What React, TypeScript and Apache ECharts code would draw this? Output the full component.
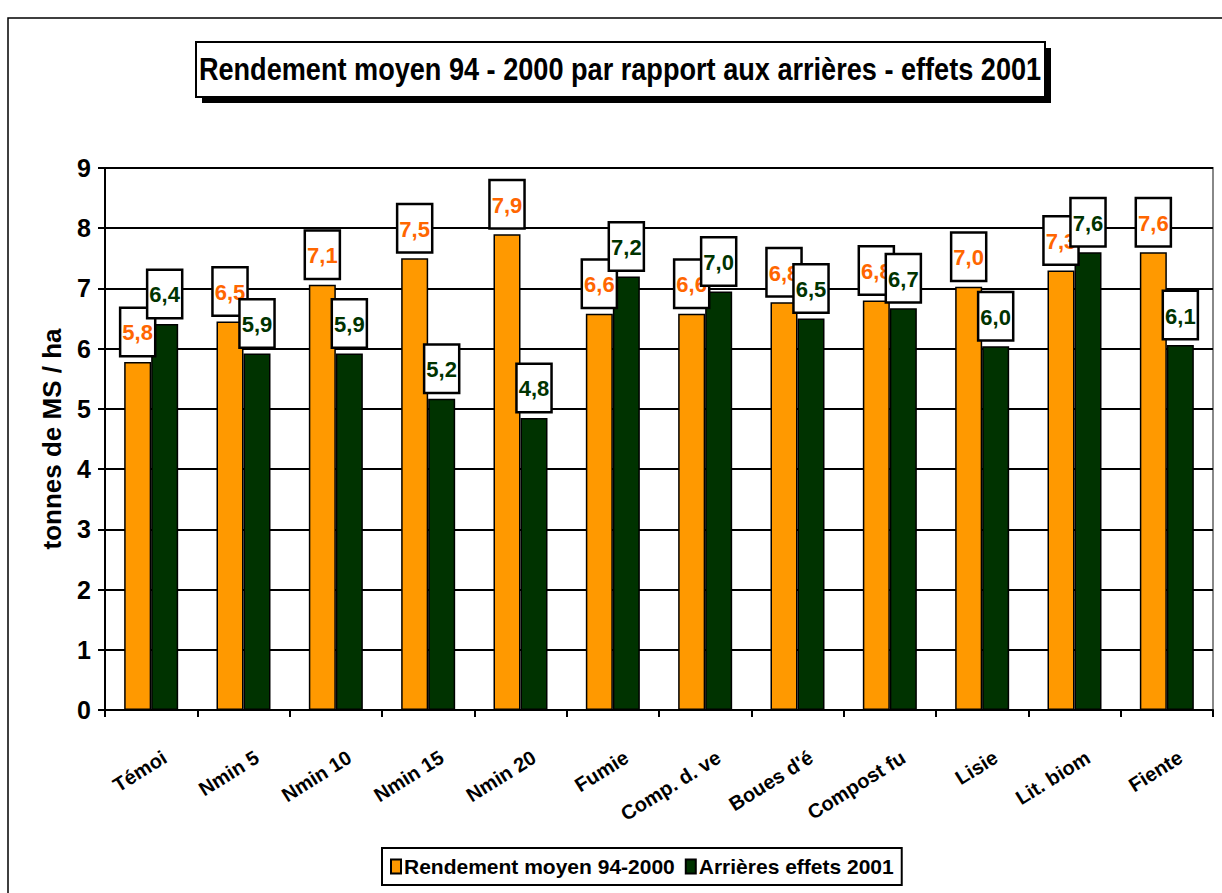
import React, { useEffect, useRef } from "react";
import * as echarts from "echarts";

const categories = ["Témoi", "Nmin 5", "Nmin 10", "Nmin 15", "Nmin 20", "Fumie", "Comp. d. ve", "Boues d'é", "Compost fu", "Lisie", "Lit. biom", "Fiente"];
const rendementMoyen = [5.78, 6.45, 7.06, 7.5, 7.9, 6.58, 6.58, 6.77, 6.8, 7.03, 7.3, 7.6];
const arrieresEffets = [6.41, 5.92, 5.92, 5.17, 4.85, 7.2, 6.95, 6.5, 6.67, 6.04, 7.6, 6.06];
const yTicks = [0, 9, 1];
const seriesNames = ["Rendement moyen 94-2000", "Arrières effets 2001"];
const titleText = "Rendement moyen 94 - 2000 par rapport aux arrières - effets 2001";
const yAxisName = "tonnes de MS / ha";

const FONT = "'Liberation Sans', Arial, sans-serif";

export default function App() {
  const ref = useRef<HTMLDivElement>(null);
  useEffect(() => {
    if (!ref.current) return;
    const chart = echarts.init(ref.current, null, { renderer: "svg" });
    const fmt = (p: any) => Number(p.value).toFixed(1).replace(".", ",");
    const labelBase = {
      show: true,
      position: "top",
      distance: 7,
      formatter: fmt,
      fontFamily: FONT,
      fontWeight: "bold",
      fontSize: 22,
      backgroundColor: "#ffffff",
      borderColor: "#000000",
      borderWidth: 2.5,
      padding: [13, 1, 11, 1],
    };
    chart.setOption({
      animation: false,
      backgroundColor: "#ffffff",
      textStyle: { fontFamily: FONT },
      graphic: [
        { type: "rect", shape: { x: 8, y: 18, width: 1230, height: 900 }, style: { fill: "none", stroke: "#000", lineWidth: 1.5 }, silent: true, z: -10 },
        { type: "rect", shape: { x: 202, y: 48, width: 849, height: 55 }, style: { fill: "#000" }, z: 10 },
        { type: "rect", shape: { x: 196, y: 42, width: 849, height: 55 }, style: { fill: "#fff", stroke: "#000", lineWidth: 2 }, z: 11 },
        {
          type: "text",
          x: 620,
          y: 69,
          scaleX: 0.875,
          z: 12,
          style: { text: titleText, fontFamily: FONT, fontWeight: "bold", fontSize: 31, fill: "#000", align: "center", verticalAlign: "middle" },
        },
      ],
      grid: { left: 105, right: 9, top: 168, bottom: 183, show: true, borderColor: "#888", borderWidth: 2 },
      legend: {
        left: 382,
        top: 848,
        data: seriesNames,
        icon: "rect",
        itemWidth: 10,
        itemHeight: 14,
        itemGap: 10,
        padding: [8, 8, 8, 8],
        borderColor: "#000",
        borderWidth: 2,
        textStyle: { fontFamily: FONT, fontWeight: "bold", fontSize: 21, color: "#000", padding: [0, 0, 0, -2] },
      },
      xAxis: {
        type: "category",
        data: categories,
        axisLine: { lineStyle: { color: "#000", width: 2 } },
        axisTick: { show: true, length: 7, lineStyle: { color: "#000", width: 2 } },
        axisLabel: { rotate: 32, interval: 0, margin: 54, padding: [0, -16, 0, 0], fontFamily: FONT, fontWeight: "bold", fontSize: 20, color: "#000" },
      },
      yAxis: {
        type: "value",
        min: yTicks[0],
        max: yTicks[1],
        interval: yTicks[2],
        name: yAxisName,
        nameLocation: "middle",
        nameGap: 40,
        nameTextStyle: { fontFamily: FONT, fontWeight: "bold", fontSize: 26, color: "#000" },
        axisLine: { show: true, lineStyle: { color: "#000", width: 2 } },
        axisTick: { show: true, length: 7, lineStyle: { color: "#000", width: 2 } },
        axisLabel: { margin: 14, fontFamily: FONT, fontWeight: "bold", fontSize: 25, color: "#000" },
        splitLine: { lineStyle: { color: "#000", width: 2 } },
      },
      series: [
        {
          name: seriesNames[0],
          type: "bar",
          data: rendementMoyen,
          barWidth: 27,
          barGap: "0%",
          itemStyle: { color: "#ff9900", borderColor: "#000", borderWidth: 1.5 },
          label: { ...labelBase, color: "#ff6600" },
        },
        {
          name: seriesNames[1],
          type: "bar",
          data: arrieresEffets,
          barWidth: 27,
          itemStyle: { color: "#003300", borderColor: "#000", borderWidth: 1.5 },
          label: { ...labelBase, color: "#003300" },
        },
      ],
    });
    return () => chart.dispose();
  }, []);
  return <div ref={ref} style={{ position: "absolute", left: 0, top: 0, width: 1222, height: 893 }} />;
}
